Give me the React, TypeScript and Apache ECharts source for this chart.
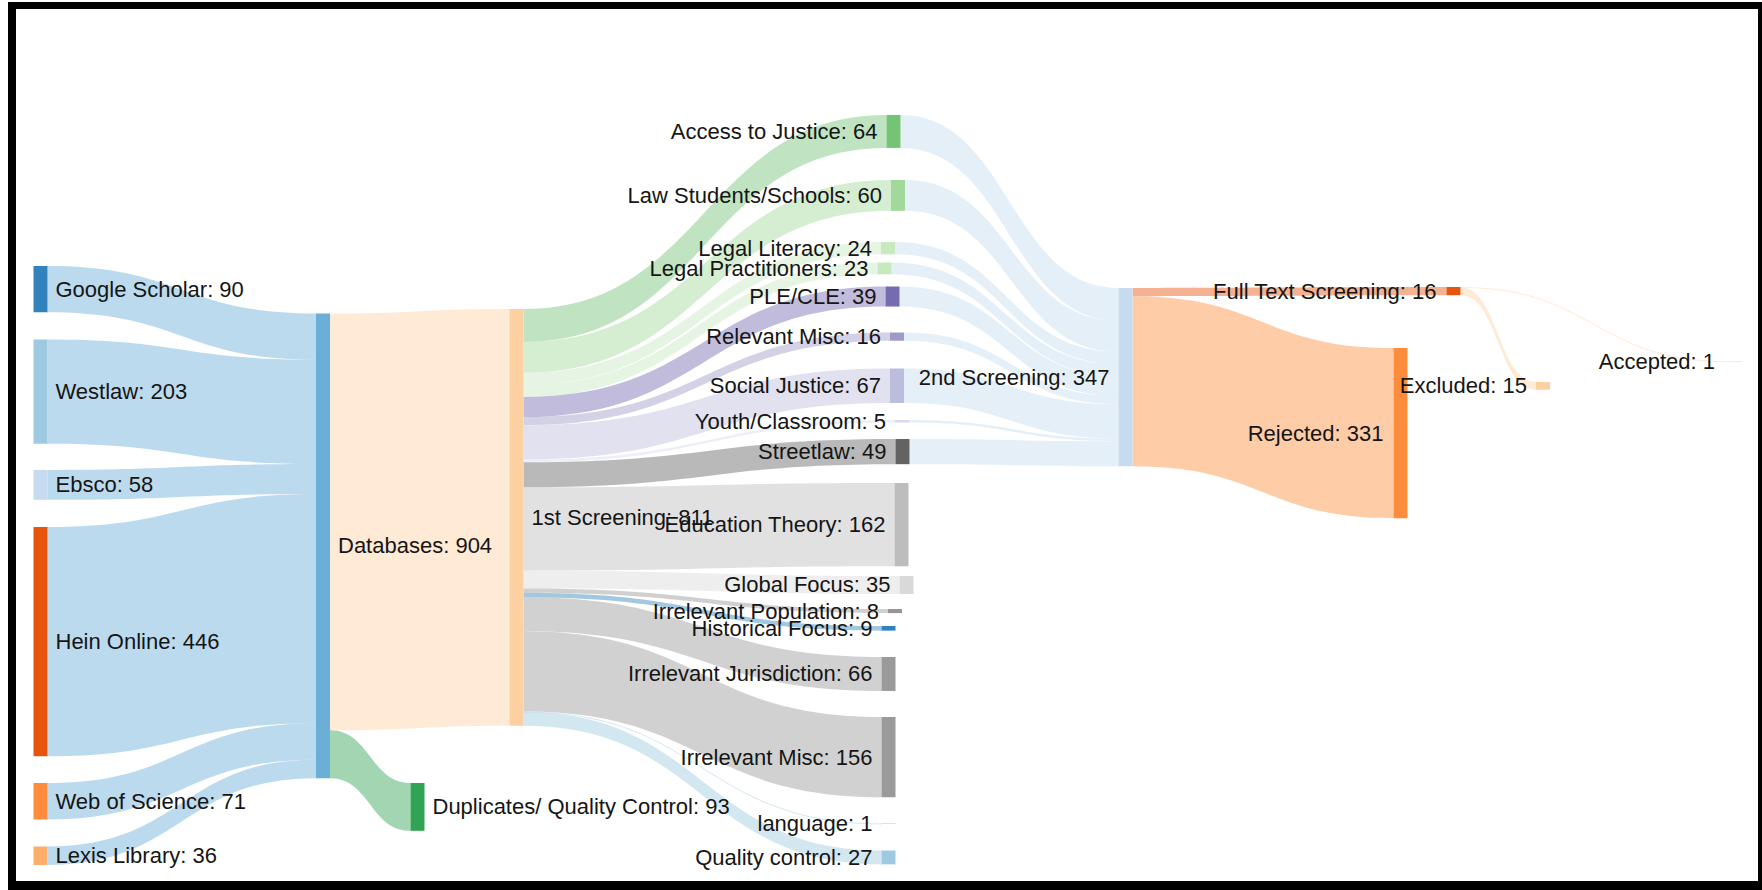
import React, { useEffect, useRef } from 'react';
import * as echarts from 'echarts';

// ---------- data ----------
const sourceNames = ['Google Scholar', 'Westlaw', 'Ebsco', 'Hein Online', 'Web of Science', 'Lexis Library'];
const sourceCounts = [90, 203, 58, 446, 71, 36];

const poolName = 'Databases';
const screen1Name = '1st Screening';
const duplicatesName = 'Duplicates/ Quality Control';
const poolOutNames = [screen1Name, duplicatesName];
const poolOutCounts = [811, 93];

const categoryNames = [
  'Access to Justice', 'Law Students/Schools', 'Legal Literacy', 'Legal Practitioners', 'PLE/CLE',
  'Relevant Misc', 'Social Justice', 'Youth/Classroom', 'Streetlaw', 'Education Theory', 'Global Focus',
  'Irrelevant Population', 'Historical Focus', 'Irrelevant Jurisdiction', 'Irrelevant Misc', 'language',
  'Quality control',
];
const categoryCounts = [64, 60, 24, 23, 39, 16, 67, 5, 49, 162, 35, 8, 9, 66, 156, 1, 27];
// categories that continue to the 2nd screening
const relevantCategories = [
  'Access to Justice', 'Law Students/Schools', 'Legal Literacy', 'Legal Practitioners', 'PLE/CLE',
  'Relevant Misc', 'Social Justice', 'Youth/Classroom', 'Streetlaw',
];

const screen2Name = '2nd Screening';
const screen2OutNames = ['Full Text Screening', 'Rejected'];
const screen2OutCounts = [16, 331];
const fullTextName = 'Full Text Screening';
const fullTextOutNames = ['Accepted', 'Excluded'];
const fullTextOutCounts = [1, 15];

// ---------- layout (hand-arranged node placement, px) ----------
const PX_PER_UNIT = 0.514;
const LAYOUT_W = 1762;
const LAYOUT_H = 904 * PX_PER_UNIT;
const nodePlacement: [string, number, number][] = [
  ['Google Scholar', 33.5, 266], ['Westlaw', 33.5, 339.5], ['Ebsco', 33.5, 470],
  ['Hein Online', 33.5, 527], ['Web of Science', 33.5, 783], ['Lexis Library', 33.5, 846.5],
  ['Databases', 316, 313.5], ['1st Screening', 509.5, 309], ['Duplicates/ Quality Control', 410.5, 783],
  ['Access to Justice', 886.5, 115], ['Law Students/Schools', 891, 180], ['Legal Literacy', 881, 242],
  ['Legal Practitioners', 877.5, 262.5], ['PLE/CLE', 885.5, 286.5], ['Relevant Misc', 890, 332.5],
  ['Social Justice', 890, 368.5], ['Youth/Classroom', 895, 420], ['Streetlaw', 895.5, 439],
  ['Education Theory', 894.5, 483], ['Global Focus', 899.5, 576], ['Irrelevant Population', 888, 609],
  ['Historical Focus', 881.5, 626], ['Irrelevant Jurisdiction', 881.5, 657], ['Irrelevant Misc', 881.5, 717],
  ['language', 881.5, 823.5], ['Quality control', 881.5, 850.5],
  ['2nd Screening', 1118.5, 288], ['Full Text Screening', 1446.5, 287], ['Rejected', 1393.5, 348],
  ['Accepted', 1728, 361], ['Excluded', 1536, 382],
];
const labelGap: Record<string, number> = { Accepted: 13, 'Full Text Screening': 10, Rejected: 10 };

const nodeColors: Record<string, string> = {
  'Google Scholar': '#3182bd', Westlaw: '#9ecae1', Ebsco: '#c6dbef', 'Hein Online': '#e6550d',
  'Web of Science': '#fd8d3c', 'Lexis Library': '#fdae6b', Databases: '#6baed6', '1st Screening': '#fdd0a2',
  'Duplicates/ Quality Control': '#31a354', 'Access to Justice': '#74c476', 'Law Students/Schools': '#a1d99b',
  'Legal Literacy': '#c7e9c0', 'Legal Practitioners': '#c7e9c0', 'PLE/CLE': '#756bb1', 'Relevant Misc': '#9e9ac8',
  'Social Justice': '#bcbddc', 'Youth/Classroom': '#dadaeb', Streetlaw: '#636363', 'Education Theory': '#bdbdbd',
  'Global Focus': '#d9d9d9', 'Irrelevant Population': '#969696', 'Historical Focus': '#3182bd',
  'Irrelevant Jurisdiction': '#9a9a9a', 'Irrelevant Misc': '#9a9a9a', language: '#9ecae1', 'Quality control': '#9ecae1',
  '2nd Screening': '#c6dbef', 'Full Text Screening': '#e6550d', Rejected: '#fd8d3c', Excluded: '#fdd0a2',
  Accepted: '#fdd0a2',
};

export default function App() {
  const ref = useRef<HTMLDivElement>(null);

  useEffect(() => {
    if (!ref.current) return;
    const chart = echarts.init(ref.current, null, { renderer: 'svg' });

    const links: { source: string; target: string; value: number }[] = [];
    sourceNames.forEach((s, i) => links.push({ source: s, target: poolName, value: sourceCounts[i] }));
    poolOutNames.forEach((t, i) => links.push({ source: poolName, target: t, value: poolOutCounts[i] }));
    categoryNames.forEach((t, i) => links.push({ source: screen1Name, target: t, value: categoryCounts[i] }));
    relevantCategories.forEach((s) =>
      links.push({ source: s, target: screen2Name, value: categoryCounts[categoryNames.indexOf(s)] }));
    screen2OutNames.forEach((t, i) => links.push({ source: screen2Name, target: t, value: screen2OutCounts[i] }));
    fullTextOutNames.forEach((t, i) => links.push({ source: fullTextName, target: t, value: fullTextOutCounts[i] }));

    const inSum: Record<string, number> = {};
    const outSum: Record<string, number> = {};
    links.forEach((l) => {
      outSum[l.source] = (outSum[l.source] || 0) + l.value;
      inSum[l.target] = (inSum[l.target] || 0) + l.value;
    });

    const nodes = nodePlacement.map(([name, x, y]) => {
      const leftLabel = x > 800;
      return {
        name,
        value: Math.max(inSum[name] || 0, outSum[name] || 0),
        localX: x / LAYOUT_W,
        localY: y / LAYOUT_H,
        itemStyle: { color: nodeColors[name] },
        label: {
          position: leftLabel ? 'left' : 'right',
          distance: labelGap[name] ?? (leftLabel ? 9 : 8),
        },
      };
    });

    const option: any = {
      animation: false,
      backgroundColor: '#ffffff',
      graphic: [
        { type: 'rect', shape: { x: 8, y: 2, width: 8, height: 888 }, style: { fill: '#000' } },
        { type: 'rect', shape: { x: 8, y: 2, width: 1754, height: 7 }, style: { fill: '#000' } },
        { type: 'rect', shape: { x: 1758, y: 2, width: 4, height: 888 }, style: { fill: '#000' } },
        { type: 'rect', shape: { x: 8, y: 881, width: 1754, height: 9 }, style: { fill: '#000' } },
      ],
      series: [
        {
          type: 'sankey',
          left: 0,
          top: 0,
          width: LAYOUT_W,
          height: LAYOUT_H,
          nodeWidth: 14,
          nodeGap: 0,
          nodeAlign: 'left',
          layoutIterations: 0,
          draggable: false,
          emphasis: { disabled: true },
          data: nodes,
          links,
          itemStyle: { borderWidth: 0 },
          lineStyle: { color: 'target', opacity: 0.45, curveness: 0.5 },
          label: {
            show: true,
            fontFamily: 'Liberation Sans, Arial, sans-serif',
            fontSize: 22,
            color: '#151515',
            formatter: (p: any) => `${p.name}: ${p.value}`,
          },
        },
      ],
    };
    chart.setOption(option);
    return () => chart.dispose();
  }, []);

  return (
    <div
      ref={ref}
      style={{ position: 'fixed', left: 0, top: 0, width: 1762, height: 890, background: '#fff' }}
    />
  );
}
